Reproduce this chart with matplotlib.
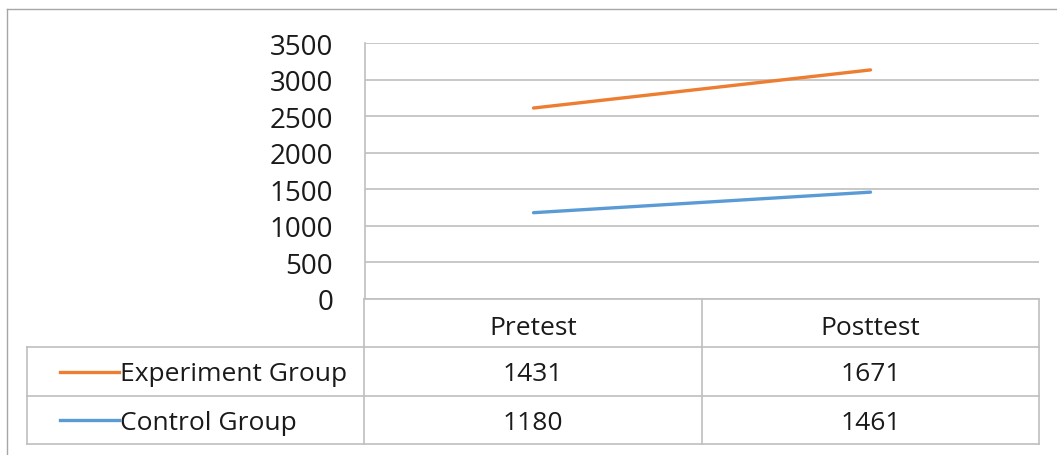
import matplotlib
matplotlib.use('Agg')
import matplotlib.pyplot as plt
import numpy as np

categories = ["Pretest", "Posttest"]
series_names = ["Experiment Group", "Control Group"]
experiment = [1431, 1671]
control = [1180, 1461]
colors = {"Experiment Group": "#ED7D31", "Control Group": "#5B9BD5"}
yticks = [0, 500, 1000, 1500, 2000, 2500, 3000, 3500]

plt.rcParams['font.family'] = ['Open Sans', 'DejaVu Sans']
W, H = 1057, 456
GRID = '#bfbfbf'
TXT = '#1a1a1a'
FS = 19

fig = plt.figure(figsize=(W / 100, H / 100), dpi=100)

# outer chart border (top and left visible)
fig.add_artist(plt.Line2D([7 / W, 1], [1 - 10 / H, 1 - 10 / H], color='#a6a6a6', lw=1))
fig.add_artist(plt.Line2D([7 / W, 7 / W], [0, 1 - 10 / H], color='#a6a6a6', lw=1))

# plot area
ax = fig.add_axes([365 / W, 1 - 300 / H, 674 / W, 256 / H])
x = np.arange(len(categories))
# stacked line chart: control at bottom, experiment on top
stack_ctrl = np.array(control)
stack_exp = stack_ctrl + np.array(experiment)
ax.plot(x, stack_exp, color=colors["Experiment Group"], lw=2.4, solid_capstyle='round')
ax.plot(x, stack_ctrl, color=colors["Control Group"], lw=2.4, solid_capstyle='round')
ax.set_xlim(-0.5, len(categories) - 0.5)
ax.set_ylim(0, 3500)
ax.set_yticks(yticks)
ax.set_yticklabels([str(v) for v in yticks], fontsize=20, color=TXT)
ax.tick_params(axis='y', length=0, pad=23)
ax.set_xticks([])
ax.grid(axis='y', color=GRID, lw=1.2)
ax.set_axisbelow(True)
for s in ['top', 'right', 'bottom']:
    ax.spines[s].set_visible(False)
ax.spines['left'].set_color(GRID)
ax.spines['left'].set_linewidth(1.2)

# data table below
tax = fig.add_axes([27 / W, 1 - 445 / H, 1012 / W, 145 / H])
tax.set_xlim(-1.5, len(categories) - 0.5)
tax.set_ylim(3, 0)
tax.axis('off')
lkw = dict(color=GRID, lw=1.2, clip_on=False)
tax.plot([-0.5, 1.5], [0, 0], **lkw)
for yy in [1, 2, 3]:
    tax.plot([-1.5, 1.5], [yy, yy], **lkw)
tax.plot([-1.5, -1.5], [1, 3], **lkw)
for xx in [-0.5, 0.5, 1.5]:
    tax.plot([xx, xx], [0, 3], **lkw)

for i, c in enumerate(categories):
    tax.text(i, 0.58, c, ha='center', va='center', fontsize=FS, color=TXT)

rows = [experiment, control]
for r, (name, vals) in enumerate(zip(series_names, rows)):
    yc = r + 1.5
    tax.plot([-1.402, -1.228], [yc, yc], color=colors[name], lw=2.4, clip_on=False)
    tax.text(-1.225, yc + 0.05, name, ha='left', va='center', fontsize=FS, color=TXT)
    for i, v in enumerate(vals):
        tax.text(i, yc + 0.05, str(v), ha='center', va='center', fontsize=FS, color=TXT)

plt.savefig("out.png", dpi=100)
plt.close()
